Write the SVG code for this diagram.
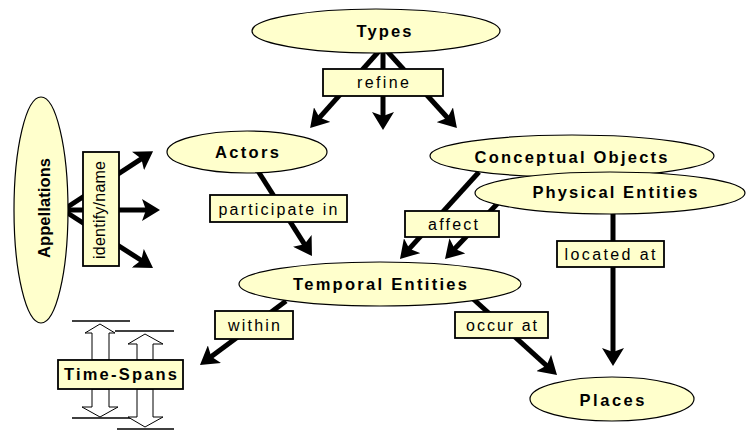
<svg xmlns="http://www.w3.org/2000/svg" width="746" height="431" viewBox="0 0 746 431">
  <defs>
    <marker id="head" markerUnits="userSpaceOnUse" markerWidth="18" markerHeight="22" viewBox="0 0 18 22" refX="8" refY="11" orient="auto">
      <path d="M0,0 L18,11 L0,22 L4,11 z" fill="#000"/>
    </marker>
    <style>
      .node { fill: #ffffcc; stroke: #000; stroke-width: 1.2; }
      .box { fill: #ffffcc; stroke: #000; stroke-width: 1.8; }
      .edge { stroke: #000; stroke-width: 5; fill: none; marker-end: url(#head); }
      .ntext { font-family: "Liberation Sans", Arial, sans-serif; font-weight: bold; font-size: 16.5px; text-anchor: middle; fill: #000; }
      .ltext { font-family: "Liberation Sans", Arial, sans-serif; font-size: 16px; text-anchor: middle; fill: #000; }
      .span { fill: #fff; stroke: #000; stroke-width: 1; }
      .tick { stroke: #000; stroke-width: 1.5; }
    </style>
  </defs>
  <rect width="746" height="431" fill="#fff"/>

  <!-- connectors -->
  <g id="connectors">
    <line class="edge" x1="380" y1="50" x2="316.8" y2="120.6"/>
    <line class="edge" x1="383" y1="50" x2="383" y2="120"/>
    <line class="edge" x1="386" y1="50" x2="450.2" y2="120.7"/>
    <line class="edge" x1="66" y1="208" x2="144.7" y2="156.6"/>
    <line class="edge" x1="66" y1="210" x2="150" y2="210"/>
    <line class="edge" x1="66" y1="212" x2="144.6" y2="262.5"/>
    <line class="edge" x1="258" y1="171" x2="306.6" y2="247.6"/>
    <line class="edge" x1="479" y1="172" x2="406.7" y2="251.6"/>
    <line class="edge" x1="498" y1="203" x2="451.9" y2="251.7"/>
    <line class="edge" x1="613" y1="212" x2="613" y2="356"/>
    <line class="edge" x1="286" y1="301" x2="208" y2="359"/>
    <line class="edge" x1="471" y1="297" x2="549.6" y2="368.3"/>
  </g>

  <!-- nodes -->
  <g id="types">
    <ellipse class="node" cx="376" cy="31" rx="124" ry="22"/>
    <text class="ntext" x="384" y="37" textLength="55">Types</text>
  </g>
  <g id="actors">
    <ellipse class="node" cx="247" cy="152" rx="80" ry="21"/>
    <text class="ntext" x="247" y="158" textLength="64">Actors</text>
  </g>
  <g id="appellations">
    <ellipse class="node" cx="41" cy="210" rx="27" ry="113"/>
    <text class="ntext" transform="translate(50,208) rotate(-90)" x="0" y="0" textLength="100">Appellations</text>
  </g>
  <g id="conceptual-objects">
    <ellipse class="node" cx="572" cy="156" rx="142" ry="21"/>
    <text class="ntext" x="571" y="163" textLength="193">Conceptual Objects</text>
  </g>
  <g id="physical-entities">
    <ellipse class="node" cx="610" cy="193" rx="135" ry="21"/>
    <text class="ntext" x="615" y="198" textLength="165">Physical Entities</text>
  </g>
  <g id="temporal-entities">
    <ellipse class="node" cx="380" cy="284" rx="141" ry="22"/>
    <text class="ntext" x="380" y="290" textLength="174">Temporal Entities</text>
  </g>
  <g id="places">
    <ellipse class="node" cx="612" cy="399" rx="82" ry="22"/>
    <text class="ntext" x="612" y="406" textLength="65">Places</text>
  </g>
  <g id="time-spans">
    <line class="tick" x1="72" y1="321" x2="130" y2="321"/>
    <line class="tick" x1="115" y1="331" x2="174" y2="331"/>
    <path class="span" d="M100,324 L115,333 L109,333 L109,360 L92,360 L92,333 L85,333 z"/>
    <path class="span" d="M100,417 L118,407 L109,407 L109,389 L92,389 L92,407 L82,407 z"/>
    <line class="tick" x1="72" y1="418" x2="130" y2="418"/>
    <path class="span" d="M145,334 L163,344 L153,344 L153,360 L137,360 L137,344 L128,344 z"/>
    <path class="span" d="M145,427 L163,417 L153,417 L153,389 L137,389 L137,417 L128,417 z"/>
    <line class="tick" x1="117" y1="429" x2="174" y2="429"/>
    <rect class="box" x="58" y="360" width="125" height="29"/>
    <text class="ntext" x="120.5" y="380" textLength="113">Time-Spans</text>
  </g>

  <!-- connector labels -->
  <g id="connector-labels">
    <g id="label-refine">
      <rect class="box" x="323" y="69" width="120" height="27"/>
      <text class="ltext" x="383" y="88" textLength="52">refine</text>
    </g>
    <g id="label-identify">
      <rect class="box" x="83" y="152" width="36" height="114"/>
      <text class="ltext" transform="translate(105,210) rotate(-90)" x="0" y="0" textLength="98">identify/name</text>
    </g>
    <g id="label-participate">
      <rect class="box" x="210" y="195" width="137" height="27"/>
      <text class="ltext" x="278" y="215" textLength="119">participate in</text>
    </g>
    <g id="label-affect">
      <rect class="box" x="405" y="211" width="94" height="26"/>
      <text class="ltext" x="453" y="230" textLength="50">affect</text>
    </g>
    <g id="label-located">
      <rect class="box" x="557" y="241" width="107" height="26"/>
      <text class="ltext" x="610" y="260" textLength="91">located at</text>
    </g>
    <g id="label-within">
      <rect class="box" x="215" y="311" width="78" height="28"/>
      <text class="ltext" x="254" y="331" textLength="52">within</text>
    </g>
    <g id="label-occur">
      <rect class="box" x="455" y="312" width="93" height="26"/>
      <text class="ltext" x="501.5" y="331" textLength="71">occur at</text>
    </g>
  </g>
</svg>
